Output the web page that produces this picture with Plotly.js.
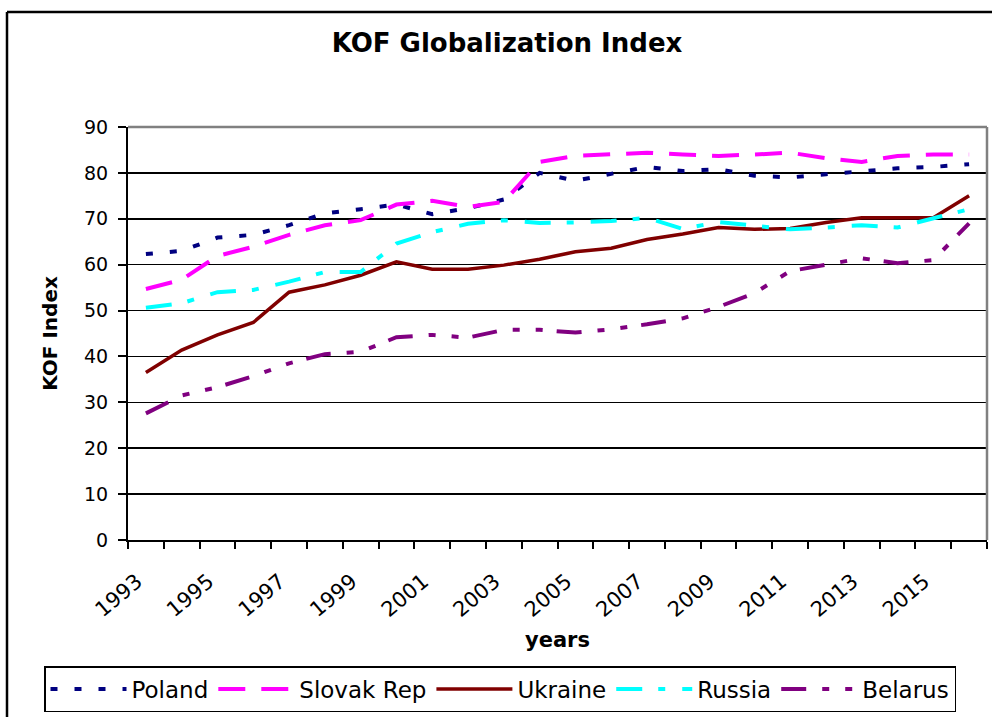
<!DOCTYPE html>
<html>
<head>
<meta charset="utf-8">
<script src="https://cdn.plot.ly/plotly-3.0.1.min.js"></script>
<style>
  html, body { margin: 0; padding: 0; background: #fff; }
  #chart { width: 992px; height: 717px; }
</style>
</head>
<body>
<div id="chart"></div>
<script>
const years = [1993,1994,1995,1996,1997,1998,1999,2000,2001,2002,2003,2004,2005,2006,2007,2008,2009,2010,2011,2012,2013,2014,2015,2016];
const tickLabels = ['1993','1995','1997','1999','2001','2003','2005','2007','2009','2011','2013','2015'];
const yTicks = [0,10,20,30,40,50,60,70,80,90];

const poland   = [62.3,63.0,65.9,66.5,68.6,71.2,72.1,73.1,71.0,72.3,74.2,80.0,78.3,79.9,81.3,80.4,80.8,79.4,79.0,79.7,80.4,81.0,81.3,81.9];
const slovak   = [54.7,56.7,61.9,63.9,66.5,68.6,69.7,73.1,73.9,72.6,73.7,82.4,83.7,84.1,84.4,84.0,83.7,84.0,84.4,83.2,82.4,83.7,84.0,84.0];
const ukraine  = [36.5,41.4,44.7,47.4,54.0,55.6,57.7,60.6,59.0,59.0,59.9,61.2,62.8,63.6,65.5,66.7,68.1,67.7,67.9,69.2,70.2,70.2,70.2,75.0];
const russia   = [50.6,51.6,54.0,54.5,56.3,58.4,58.4,64.6,67.1,68.9,69.7,69.1,69.2,69.5,70.2,67.8,69.3,68.6,67.7,68.1,68.6,68.1,70.1,72.1];
const belarus  = [27.6,31.5,33.3,35.7,38.5,40.5,41.0,44.2,44.7,44.1,45.8,45.8,45.2,45.9,47.0,48.3,50.8,53.8,58.6,59.9,61.4,60.3,61.0,69.0];

const seriesNames = ['Poland','Slovak Rep','Ukraine','Russia','Belarus'];

const traces = [
  {x: years, y: poland,  name: seriesNames[0], type: 'scatter', mode: 'lines',
   line: {color: '#000080', width: 4, dash: '7px,17px'}},
  {x: years, y: slovak,  name: seriesNames[1], type: 'scatter', mode: 'lines',
   line: {color: '#FF00FF', width: 4, dash: '27px,16px'}},
  {x: years, y: ukraine, name: seriesNames[2], type: 'scatter', mode: 'lines',
   line: {color: '#800000', width: 3.5}},
  {x: years, y: russia,  name: seriesNames[3], type: 'scatter', mode: 'lines',
   line: {color: '#00FFFF', width: 4, dash: '26px,16px,7px,17px'}},
  {x: years, y: belarus, name: seriesNames[4], type: 'scatter', mode: 'lines',
   line: {color: '#800080', width: 4, dash: '25px,16px,7px,16px,7px,14px'}}
];

const L = 128, R = 987, T = 127, B = 540;
const px2x = p => (p - L) / (R - L);
const px2y = p => (B - p) / (B - T);

const layout = {
  width: 992, height: 717,
  margin: {l: L, r: 992 - R, t: T, b: 717 - B},
  paper_bgcolor: '#fff', plot_bgcolor: '#fff',
  showlegend: true,
  title: {
    text: '<b>KOF Globalization Index</b>',
    font: {family: 'DejaVu Sans', size: 26, color: '#000'},
    x: 507 / 992, xref: 'container', xanchor: 'center',
    y: 1 - 43 / 717, yref: 'container', yanchor: 'middle'
  },
  xaxis: {
    range: [1992.5, 2016.5],
    tickmode: 'array',
    tickvals: tickLabels.map(t => Number(t) - 0.25),
    ticktext: tickLabels,
    ticks: 'outside', ticklen: 16, tickcolor: 'rgba(0,0,0,0)',
    ticklabelstandoff: 3,
    tickangle: -40,
    tickfont: {family: 'DejaVu Sans', size: 21, color: '#000'},
    showgrid: false, zeroline: false,
    showline: true, linecolor: '#000', linewidth: 2,
    minor: {tick0: 1992.5, dtick: 1, ticks: 'outside', ticklen: 7, tickwidth: 2, tickcolor: '#000', showgrid: false},
    title: {text: '<b>years</b>', font: {family: 'DejaVu Sans', size: 21, color: '#000'}, standoff: 11},
    automargin: false, fixedrange: true
  },
  yaxis: {
    range: [0, 90],
    tickmode: 'array', tickvals: yTicks, ticktext: yTicks.map(String),
    ticks: 'outside', ticklen: 8, tickwidth: 2, tickcolor: '#000',
    ticklabelstandoff: 6,
    tickfont: {family: 'DejaVu Sans', size: 19, color: '#000'},
    showgrid: true, gridcolor: '#000', gridwidth: 1.5,
    zeroline: false,
    showline: true, linecolor: '#000', linewidth: 2,
    title: {text: '<b>KOF Index</b>', font: {family: 'DejaVu Sans', size: 20, color: '#000'}, standoff: 21},
    automargin: false, fixedrange: true
  },
  legend: {
    orientation: 'h',
    x: px2x(44), xanchor: 'left',
    y: px2y(666), yanchor: 'top',
    bordercolor: '#000', borderwidth: 1.5,
    bgcolor: '#fff',
    itemwidth: 76,
    font: {family: 'DejaVu Sans', size: 23, color: '#000'},
    traceorder: 'normal'
  },
  shapes: [
    {type: 'line', xref: 'paper', yref: 'paper', x0: 0, x1: 1, y0: 1, y1: 1,
     line: {color: '#808080', width: 2.5}, layer: 'above'},
    {type: 'line', xref: 'paper', yref: 'paper', x0: 1, x1: 1, y0: 0, y1: 1,
     line: {color: '#808080', width: 2.5}, layer: 'above'},
    {type: 'line', xref: 'paper', yref: 'paper', x0: px2x(7), x1: px2x(7), y0: px2y(12), y1: px2y(720),
     line: {color: '#000', width: 2.5}, layer: 'above'},
    {type: 'line', xref: 'paper', yref: 'paper', x0: px2x(7), x1: px2x(995), y0: px2y(12), y1: px2y(12),
     line: {color: '#000', width: 2.5}, layer: 'above'}
  ]
};

Plotly.newPlot('chart', traces, layout, {displayModeBar: false, staticPlot: true});
</script>
</body>
</html>
